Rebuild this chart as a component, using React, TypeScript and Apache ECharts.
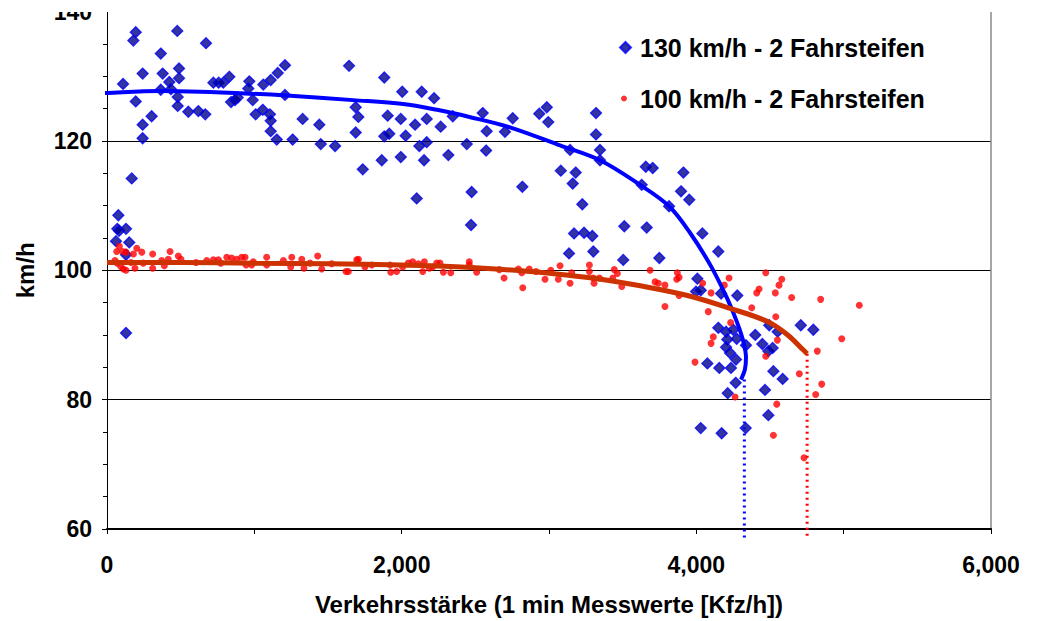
import React, { useEffect, useRef } from "react";
import * as echarts from "echarts";

const FONT = "'Liberation Sans', Arial, sans-serif";

const seriesNames = ["130 km/h - 2 Fahrsteifen", "100 km/h - 2 Fahrsteifen"];

const xTicks = { min: 0, max: 6000, step: 1000 };
const yTicks = { min: 60, max: 140, step: 20 };

// 130 km/h measurements [Kfz/h, km/h]
const blue130: number[][] = [
  [195, 136.8], [179, 135.5], [477, 137.0], [672, 135.1], [365, 133.5], [109, 128.8], [242, 130.4], [378, 130.4],
  [489, 131.2], [489, 129.7], [423, 129.1], [365, 127.9], [434, 128.0], [195, 126.1], [480, 126.8], [480, 125.4],
  [303, 123.8], [242, 122.5], [242, 120.4], [552, 124.5], [620, 124.6], [667, 124.1], [722, 129.0], [758, 129.0],
  [789, 129.0], [830, 129.9], [842, 126.0], [869, 126.3], [887, 126.7], [966, 129.2], [959, 128.1], [989, 126.3],
  [1061, 128.7], [1111, 129.4], [1159, 130.5], [1009, 124.1], [1057, 124.8], [1106, 124.1], [1111, 123.1], [1111, 121.5],
  [1152, 120.2], [168, 114.2], [1208, 131.7], [1208, 127.1], [1260, 120.2], [1328, 123.4], [1441, 122.5], [1451, 119.5],
  [1548, 119.2], [1643, 131.6], [1688, 125.2], [1706, 123.7], [1688, 121.3], [1736, 115.6], [1882, 129.8], [1905, 123.9],
  [1882, 120.7], [1916, 121.1], [1865, 117.0], [2004, 127.6], [1994, 123.4], [2027, 120.8], [1994, 117.5], [2136, 127.6],
  [2220, 126.6], [2091, 122.5], [2170, 123.4], [2170, 119.8], [2120, 119.2], [2152, 117.0], [2265, 122.2], [2317, 117.8],
  [2347, 123.8], [2442, 119.5], [2475, 112.1], [2550, 124.3], [2577, 121.5], [2573, 118.5], [2701, 121.4], [2754, 123.5],
  [2819, 112.9], [2934, 124.2], [2985, 125.2], [2995, 122.9], [3080, 115.4], [3181, 115.1], [3161, 113.4], [3143, 118.6],
  [3226, 110.2], [3319, 124.3], [3319, 121.0], [3346, 118.6], [3346, 117.0], [2471, 107.0], [3170, 105.7], [3238, 105.8],
  [3294, 105.3], [3136, 102.6], [3301, 102.9], [3511, 106.8], [3504, 101.6], [3657, 116.0], [3704, 115.8], [3629, 113.2],
  [3663, 106.6], [3749, 101.9], [3912, 115.1], [3896, 112.2], [3952, 110.9], [3815, 109.9], [4041, 105.7], [4149, 102.9],
  [4007, 98.7], [3998, 96.7], [4030, 96.9], [4168, 96.4], [4278, 96.1], [4149, 91.1], [4202, 90.5], [4251, 90.8],
  [4210, 89.3], [4274, 89.4], [4202, 88.1], [4229, 87.2], [4269, 86.2], [4337, 88.4], [4400, 90.0], [4448, 88.6],
  [4489, 87.5], [4518, 88.0], [4495, 91.5], [4552, 90.5], [4709, 91.5], [4794, 90.8], [4075, 85.6], [4156, 84.9],
  [4235, 84.9], [4523, 84.4], [4586, 83.2], [4267, 82.6], [4213, 81.0], [4466, 81.5], [4489, 77.6], [4030, 75.6],
  [4172, 74.8], [4335, 75.6], [77, 108.5], [70, 106.4], [82, 106.1], [129, 106.4], [61, 104.5], [151, 104.3],
  [129, 102.4], [129, 90.3], [2102, 111.1],
];

// 100 km/h measurements [Kfz/h, km/h]
const red100: number[][] = [
  [66, 102.9], [84, 103.7], [107, 102.9], [129, 102.8], [54, 101.5], [70, 101.1], [93, 100.6], [111, 100.2],
  [129, 100.0], [163, 101.2], [179, 102.5], [202, 103.4], [236, 102.8], [190, 100.3], [246, 101.1], [310, 102.5],
  [310, 100.3], [371, 101.5], [389, 100.7], [428, 102.9], [416, 101.7], [484, 102.2], [502, 101.7], [604, 101.2],
  [677, 101.5], [722, 101.6], [756, 101.6], [772, 101.1], [813, 102.0], [846, 101.9], [880, 101.7], [914, 102.0],
  [937, 102.0], [944, 100.8], [993, 101.3], [982, 100.8], [1084, 102.0], [1084, 100.8], [1197, 101.5], [1254, 102.0],
  [1247, 100.5], [1322, 101.7], [1337, 100.3], [1378, 101.1], [1430, 102.2], [1457, 100.2], [1525, 101.0], [1622, 99.8],
  [1638, 99.8], [1695, 101.6], [1706, 101.7], [1751, 100.5], [1797, 100.8], [1921, 100.8], [1926, 99.7], [1966, 99.8],
  [2007, 100.5], [2045, 101.1], [2075, 101.3], [2113, 101.0], [2143, 99.8], [2154, 101.3], [2188, 100.3], [2211, 100.5],
  [2238, 101.1], [2260, 101.1], [2283, 99.7], [2333, 99.6], [2459, 101.3], [2459, 100.8], [2509, 99.7], [2663, 100.1],
  [2695, 98.8], [2792, 100.2], [2822, 97.3], [2815, 99.6], [2866, 100.2], [2912, 99.8], [2973, 98.6], [3012, 100.0],
  [3063, 98.6], [3075, 100.7], [3143, 98.0], [3154, 99.6], [3274, 100.8], [3274, 99.8], [3301, 98.8], [3306, 98.0],
  [3342, 98.8], [3443, 100.1], [3464, 99.5], [3433, 98.8], [3494, 97.5], [3686, 100.0], [3720, 98.2], [3742, 98.0],
  [3787, 97.7], [3787, 94.4], [3871, 99.6], [3867, 98.6], [3883, 98.9], [3883, 96.1], [4043, 98.0], [4100, 96.5],
  [4190, 97.7], [4222, 98.8], [4471, 99.6], [4561, 97.7], [4580, 98.6], [4410, 96.5], [4426, 97.1], [4536, 96.5],
  [4647, 95.8], [4844, 95.5], [5106, 94.6], [4376, 94.2], [4081, 93.6], [4233, 91.9], [4539, 92.8], [4115, 89.7],
  [4100, 88.7], [3991, 85.8], [4550, 89.2], [4471, 86.7], [4821, 87.5], [4987, 89.4], [4699, 84.0], [4851, 82.4],
  [4810, 80.8], [4263, 80.4], [4546, 79.3], [4523, 74.5], [4731, 71.0],
];

// fitted speed-flow curves
const blueFit: number[][] = [
  [-60, 127.3], [0, 127.4], [360, 127.7], [630, 127.6], [970, 127.3], [1220, 127.0], [1670, 126.3], [2010, 125.7],
  [2240, 124.8], [2460, 123.7], [2735, 122.1], [3075, 119.3], [3346, 117.0], [3618, 113.2], [3815, 109.9],
  [3957, 105.8], [4100, 100.6], [4210, 95.6], [4274, 92.1], [4319, 89.0], [4337, 86.5], [4330, 84.7], [4303, 83.1],
];
const redFit: number[][] = [
  [0, 101.2], [500, 101.2], [1000, 101.1], [1500, 101.0], [2000, 100.8], [2200, 100.7], [2500, 100.4], [2870, 99.8],
  [3100, 99.3], [3330, 98.7], [3620, 97.6], [3940, 96.1], [4230, 94.1], [4480, 92.1], [4620, 90.0], [4725, 87.7],
  [4752, 87.1],
];

// capacity markers (dotted verticals)
const blueCapacity: number[][] = [[4326, 83.1], [4326, 58.5]];
const redCapacity: number[][] = [[4752, 87.1], [4752, 58.5]];

export default function App() {
  const ref = useRef<HTMLDivElement>(null);

  useEffect(() => {
    if (!ref.current) return;
    const chart = echarts.init(ref.current, null, { renderer: "svg" });
    const legendText = {
      fontSize: 25,
      fontWeight: "bold" as const,
      color: "#000",
      fontFamily: FONT,
      lineHeight: 25,
    };
    const tickFont = { fontSize: 23, fontWeight: "bold" as const, color: "#000", fontFamily: FONT };
    const nameFont = { fontSize: 24, fontWeight: "bold" as const, color: "#000", fontFamily: FONT };
    chart.setOption({
      animation: false,
      backgroundColor: "#fff",
      textStyle: { fontFamily: FONT },
      grid: { left: 107, right: 46, top: 10, bottom: 88, containLabel: false },
      legend: [
        {
          data: [{ name: seriesNames[0], icon: "diamond" }],
          left: 619,
          top: 35,
          padding: 0,
          itemWidth: 11,
          itemHeight: 11,
          textStyle: { ...legendText, padding: [0, 0, 0, 4] },
          selectedMode: false,
        },
        {
          data: [{ name: seriesNames[1], icon: "circle" }],
          left: 621,
          top: 86,
          padding: 0,
          itemWidth: 6,
          itemHeight: 6,
          textStyle: { ...legendText, padding: [0, 0, 0, 8] },
          selectedMode: false,
        },
      ],
      xAxis: {
        type: "value",
        min: xTicks.min,
        max: xTicks.max,
        interval: xTicks.step,
        axisLine: { show: true, onZero: false, lineStyle: { color: "#000", width: 2 } },
        axisTick: { show: true, length: 5, lineStyle: { color: "#000", width: 1 } },
        axisLabel: {
          formatter: (v: number) => (v % 2000 === 0 ? v.toLocaleString("en-US") : ""),
          ...tickFont,
          margin: 24,
        },
        splitLine: { show: false },
        name: "Verkehrsstärke (1 min Messwerte [Kfz/h])",
        nameLocation: "middle",
        nameGap: 63,
        nameTextStyle: nameFont,
      },
      yAxis: [
        {
          type: "value",
          min: yTicks.min,
          max: yTicks.max,
          interval: yTicks.step,
          axisLine: { show: true, lineStyle: { color: "#000", width: 1 } },
          axisTick: { show: true, length: 5, lineStyle: { color: "#000", width: 1 } },
          minorTick: { show: true, splitNumber: 4, length: 4, lineStyle: { color: "#000", width: 1 } },
          axisLabel: { ...tickFont, margin: 15 },
          splitLine: { show: true, lineStyle: { color: "#000", width: 1 } },
          name: "km/h",
          nameLocation: "middle",
          nameGap: 70,
          nameTextStyle: nameFont,
        },
        {
          type: "value",
          position: "right",
          min: yTicks.min,
          max: yTicks.max,
          interval: yTicks.step,
          axisLine: { show: true, lineStyle: { color: "#8a8a8a", width: 1.5 } },
          axisTick: { show: false },
          axisLabel: { show: false },
          splitLine: { show: false },
        },
      ],
      series: [
        {
          type: "scatter",
          name: seriesNames[0],
          data: blue130,
          symbol: "diamond",
          symbolSize: 11,
          itemStyle: { color: "#00008B", borderColor: "#0000FF", borderWidth: 1.3 },
          z: 2,
        },
        {
          type: "scatter",
          name: seriesNames[1],
          data: red100,
          symbol: "circle",
          symbolSize: 7,
          itemStyle: { color: "#FF0000" },
          z: 3,
        },
        {
          type: "line",
          data: blueFit,
          smooth: 0.35,
          showSymbol: false,
          clip: false,
          lineStyle: { color: "#0000FF", width: 4 },
          z: 4,
        },
        {
          type: "line",
          data: redFit,
          smooth: 0.35,
          showSymbol: false,
          clip: false,
          lineStyle: { color: "#CC3300", width: 5 },
          z: 5,
        },
        {
          type: "line",
          data: blueCapacity,
          showSymbol: false,
          clip: false,
          lineStyle: { color: "#0000FF", width: 3, type: [2, 4] },
          z: 4,
        },
        {
          type: "line",
          data: redCapacity,
          showSymbol: false,
          clip: false,
          lineStyle: { color: "#FF0000", width: 3, type: [2, 4] },
          z: 4,
        },
      ],
      graphic: [
        {
          type: "rect",
          left: 0,
          top: 0,
          z: 100,
          shape: { width: 1037, height: 12 },
          style: { fill: "#fff" },
        },
      ],
    });
    return () => chart.dispose();
  }, []);

  return (
    <div
      ref={ref}
      style={{ position: "fixed", left: 0, top: 0, width: 1037, height: 621, background: "#fff" }}
    />
  );
}
